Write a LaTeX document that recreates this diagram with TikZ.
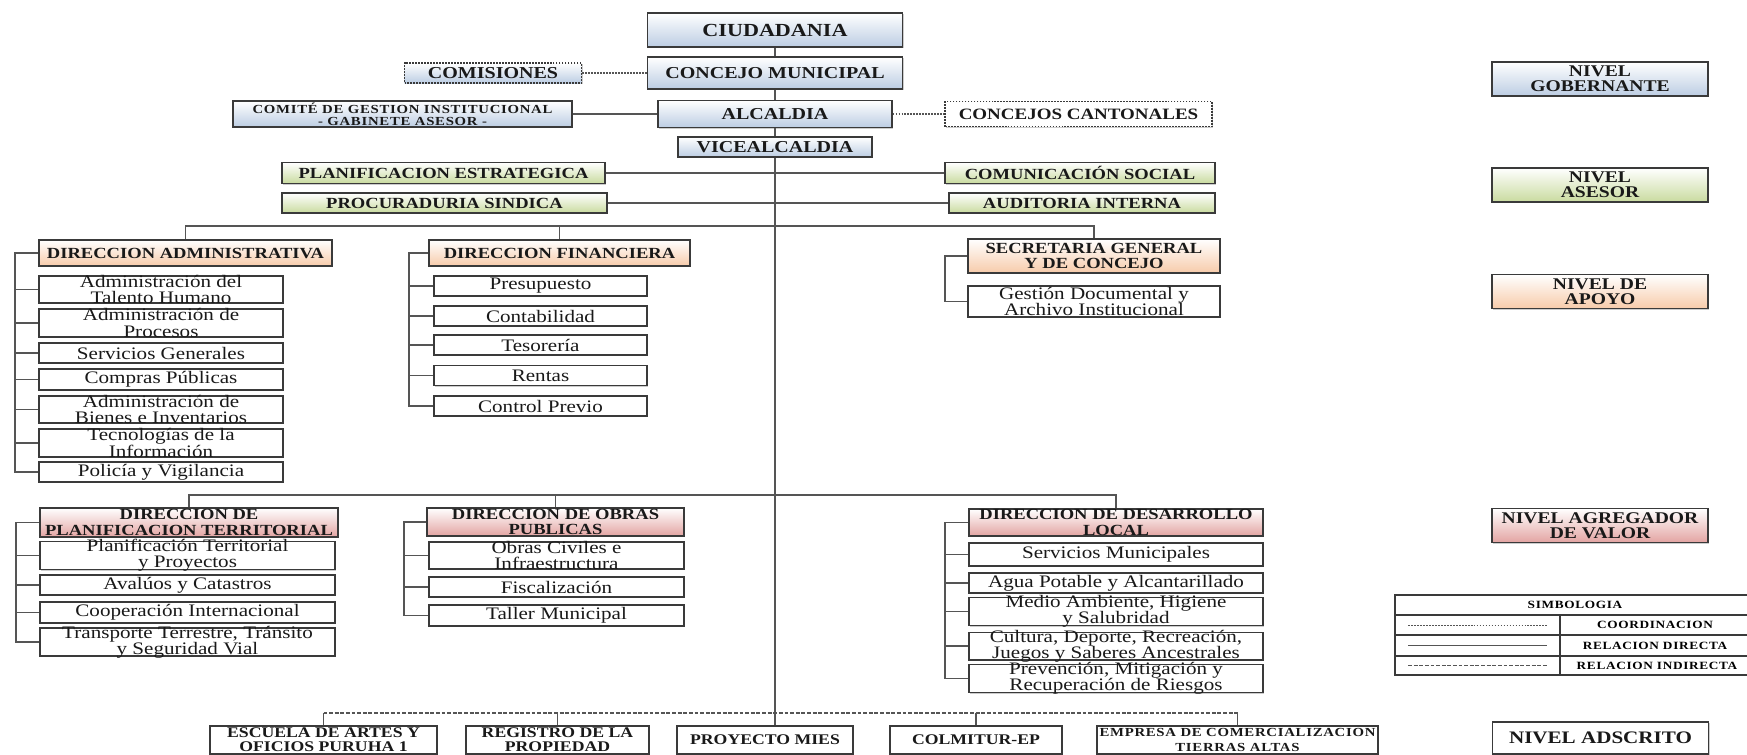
\documentclass[tikz,border=0pt]{standalone}
\usepackage{fontspec}
\setmainfont{Liberation Serif}[FakeStretch=1.2]
\newfontfamily\widefont{Liberation Serif}[FakeStretch=1.2, LetterSpace=6]
\usetikzlibrary{shadows}
\definecolor{gobcol}{HTML}{BCCDE3}
\definecolor{asecol}{HTML}{C9DB9F}
\definecolor{apocol}{HTML}{F7CBAA}
\definecolor{agrcol}{HTML}{E3A4A2}
\definecolor{edgecol}{HTML}{3A3A3A}
\definecolor{linkcol}{HTML}{555555}
\newcommand{\fsz}[2]{\fontsize{#1}{#2}\selectfont}
\begin{document}
\begin{tikzpicture}[x=0.02cm, y=-0.02cm,
  bw/.style={minimum width=#1*0.02cm},
  bh/.style={minimum height=#1*0.02cm},
  box/.style={draw=edgecol, line width=0.6pt, inner xsep=1pt, inner ysep=0pt, align=center, text=black!90,
    drop shadow={shadow xshift=0.7pt, shadow yshift=-0.7pt, fill=black!40}},
  gob/.style={box, top color=white, bottom color=gobcol, font=\bfseries\fsz{9.5}{9}},
  ase/.style={box, top color=white, bottom color=asecol, font=\bfseries\fsz{8.8}{8}},
  apo/.style={box, top color=white, bottom color=apocol, font=\bfseries\fsz{8.8}{8.8}},
  agr/.style={box, top color=white, bottom color=agrcol, inner ysep=-0.5pt, font=\bfseries\fsz{8.8}{8.6}},
  sub/.style={box, fill=white, inner ysep=-1.2pt, font=\fsz{10}{9.2}},
  adsc/.style={box, fill=white, bh=28, inner ysep=-0.5pt, font=\bfseries\fsz{8.4}{7.8}},
  lvl/.style={box, bw=216, bh=34, font=\bfseries\fsz{9.3}{8.5}},
  link/.style={draw=linkcol, line width=0.8pt},
  coord/.style={link, dash pattern=on 1pt off 0.7pt},
  indir/.style={link, dash pattern=on 2.2pt off 1pt}]
  \useasboundingbox (0,0) rectangle (1747,754);

  % nivel gobernante
  \node[gob, bw=255, bh=34, font=\bfseries\fsz{10.5}{10}] (ciud) at (775,30) {CIUDADANIA};
  \node[gob, bw=255, bh=32] (concejo) at (775,73) {CONCEJO MUNICIPAL};
  \node[gob, bw=177, bh=20, dash pattern=on 1pt off 0.7pt] (comis) at (493,73) {COMISIONES};
  \node[gob, bw=234, bh=27] (alcal) at (775,114) {ALCALDIA};
  \node[gob, bw=339, bh=26, font=\widefont\bfseries\fsz{7}{7}] (comite) at (402.5,114)
    {COMITÉ DE GESTION INSTITUCIONAL\\- GABINETE ASESOR -};
  \node[box, fill=white, bw=267, bh=25, dash pattern=on 1pt off 0.7pt, font=\bfseries\fsz{9}{9}] (canton)
    at (1078.5,114) {CONCEJOS CANTONALES};
  \node[gob, bw=194, bh=20] (vice) at (775,147) {VICEALCALDIA};

  % nivel asesor
  \node[ase, bw=323, bh=21] (planest) at (443.5,173) {PLANIFICACION ESTRATEGICA};
  \node[ase, bw=270, bh=21] (comsoc) at (1080,173) {COMUNICACIÓN SOCIAL};
  \node[ase, bw=325, bh=20] (procu) at (444.5,203) {PROCURADURIA SINDICA};
  \node[ase, bw=266, bh=20] (audit) at (1082,203) {AUDITORIA INTERNA};

  % nivel de apoyo
  \node[apo, bw=293, bh=26] (dadm) at (185.5,253) {DIRECCION ADMINISTRATIVA};
  \node[sub, bw=244, bh=27] (talento) at (161,289.5) {Administración del\\Talento Humano};
  \node[sub, bw=244, bh=28] (procesos) at (161,323) {Administración de\\Procesos};
  \node[sub, bw=244, bh=20] (servgen) at (161,353) {Servicios Generales};
  \node[sub, bw=244, bh=21] (compras) at (161,379.5) {Compras Públicas};
  \node[sub, bw=244, bh=27] (bienes) at (161,409.5) {Administración de\\Bienes e Inventarios};
  \node[sub, bw=244, bh=28] (tecno) at (161,443) {Tecnologías de la\\Información};
  \node[sub, bw=244, bh=20] (policia) at (161,472) {Policía y Vigilancia};

  \node[apo, bw=261, bh=26] (dfin) at (559.5,253) {DIRECCION FINANCIERA};
  \node[sub, bw=213, bh=20] (presup) at (540.5,286) {Presupuesto};
  \node[sub, bw=213, bh=20] (contab) at (540.5,316) {Contabilidad};
  \node[sub, bw=213, bh=20] (tesor) at (540.5,345) {Tesorería};
  \node[sub, bw=213, bh=20] (rentas) at (540.5,375.5) {Rentas};
  \node[sub, bw=213, bh=20] (ctrlprev) at (540.5,406) {Control Previo};

  \node[apo, bw=252, bh=34] (secre) at (1094,256) {SECRETARIA GENERAL\\Y DE CONCEJO};
  \node[sub, bw=252, bh=31] (gestdoc) at (1094,301.5) {Gestión Documental y\\Archivo Institucional};

  % nivel agregador de valor
  \node[agr, bw=298, bh=29] (dplan) at (189,522.5) {DIRECCION DE\\PLANIFICACION TERRITORIAL};
  \node[sub, bw=295, bh=25] (plantp) at (187.5,555.5) {Planificación Territorial\\y Proyectos};
  \node[sub, bw=295, bh=20] (avaluos) at (187.5,585) {Avalúos y Catastros};
  \node[sub, bw=295, bh=21] (cooper) at (187.5,612.5) {Cooperación Internacional};
  \node[sub, bw=295, bh=28] (transp) at (187.5,642) {Transporte Terrestre, Tránsito\\y Seguridad Vial};

  \node[agr, bw=257, bh=28] (dobras) at (555.5,522) {DIRECCION DE OBRAS\\PUBLICAS};
  \node[sub, bw=255, bh=27] (obrciv) at (556.5,555.5) {Obras Civiles e\\Infraestructura};
  \node[sub, bw=255, bh=20] (fiscal) at (556.5,587) {Fiscalización};
  \node[sub, bw=255, bh=21] (taller) at (556.5,615.5) {Taller Municipal};

  \node[agr, bw=294, bh=27] (ddl) at (1116,522.5) {DIRECCION DE DESARROLLO\\LOCAL};
  \node[sub, bw=294, bh=23] (servmun) at (1116,554.5) {Servicios Municipales};
  \node[sub, bw=294, bh=20] (agua) at (1116,583) {Agua Potable y Alcantarillado};
  \node[sub, bw=294, bh=27] (ambiente) at (1116,611.5) {Medio Ambiente, Higiene\\y Salubridad};
  \node[sub, bw=294, bh=26] (cultura) at (1116,646) {Cultura, Deporte, Recreación,\\Juegos y Saberes Ancestrales};
  \node[sub, bw=294, bh=27] (prevenc) at (1116,678.5) {Prevención, Mitigación y\\Recuperación de Riesgos};

  % nivel adscrito
  \node[adsc, bw=227] (escuela) at (323.5,740) {ESCUELA DE ARTES Y\\OFICIOS PURUHA 1};
  \node[adsc, bw=183] (registro) at (557.5,740) {REGISTRO DE LA\\PROPIEDAD};
  \node[adsc, bw=176] (proymies) at (765,740) {PROYECTO MIES};
  \node[adsc, bw=172] (colmitur) at (976,740) {COLMITUR-EP};
  \node[adsc, bw=281, font=\widefont\bfseries\fsz{7}{8}] (empresa) at (1237.5,740)
    {EMPRESA DE COMERCIALIZACION\\TIERRAS ALTAS};

  % eje central y relaciones de arriba
  \draw[link] (ciud) -- (concejo);
  \draw[link] (concejo) -- (alcal);
  \draw[link] (alcal) -- (vice);
  \draw[link] (vice.south) -- (vice.south |- proymies.north);
  \draw[coord] (comis) -- (concejo);
  \draw[link] (comite) -- (alcal);
  \draw[coord] (alcal) -- (canton);
  \draw[link] (planest) -- (comsoc);
  \draw[link] (procu) -- (audit);

  % barra de apoyo
  \coordinate (busapo) at (775,226);
  \draw[link] (dadm.north) |- (busapo) -| (secre.north);
  \draw[link] (dfin.north) -- (dfin.north |- busapo);
  \coordinate (brA) at (15,253);
  \draw[link] (dadm.west) -- (brA) |- (policia.west);
  \draw[link] (brA |- talento.west) -- (talento.west);
  \draw[link] (brA |- procesos.west) -- (procesos.west);
  \draw[link] (brA |- servgen.west) -- (servgen.west);
  \draw[link] (brA |- compras.west) -- (compras.west);
  \draw[link] (brA |- bienes.west) -- (bienes.west);
  \draw[link] (brA |- tecno.west) -- (tecno.west);
  \coordinate (brB) at (409,253);
  \draw[link] (dfin.west) -- (brB) |- (ctrlprev.west);
  \draw[link] (brB |- presup.west) -- (presup.west);
  \draw[link] (brB |- contab.west) -- (contab.west);
  \draw[link] (brB |- tesor.west) -- (tesor.west);
  \draw[link] (brB |- rentas.west) -- (rentas.west);
  \coordinate (brC) at (945,256);
  \draw[link] (secre.west) -- (brC) |- (gestdoc.west);

  % barra agregador de valor
  \coordinate (busagr) at (775,495);
  \draw[link] (dplan.north) |- (busagr) -| (ddl.north);
  \draw[link] (dobras.north) -- (dobras.north |- busagr);
  \coordinate (brD) at (16,522.5);
  \draw[link] (dplan.west) -- (brD) |- (transp.west);
  \draw[link] (brD |- plantp.west) -- (plantp.west);
  \draw[link] (brD |- avaluos.west) -- (avaluos.west);
  \draw[link] (brD |- cooper.west) -- (cooper.west);
  \coordinate (brE) at (404,522);
  \draw[link] (dobras.west) -- (brE) |- (taller.west);
  \draw[link] (brE |- obrciv.west) -- (obrciv.west);
  \draw[link] (brE |- fiscal.west) -- (fiscal.west);
  \coordinate (brF) at (945,522.5);
  \draw[link] (ddl.west) -- (brF) |- (prevenc.west);
  \draw[link] (brF |- servmun.west) -- (servmun.west);
  \draw[link] (brF |- agua.west) -- (agua.west);
  \draw[link] (brF |- ambiente.west) -- (ambiente.west);
  \draw[link] (brF |- cultura.west) -- (cultura.west);

  % barra adscrito
  \coordinate (busads) at (775,713);
  \draw[indir] (escuela.north |- busads) -- (empresa.north |- busads);
  \draw[link] (escuela.north) -- (escuela.north |- busads);
  \draw[link] (registro.north) -- (registro.north |- busads);
  \draw[link] (colmitur.north) -- (colmitur.north |- busads);
  \draw[link] (empresa.north) -- (empresa.north |- busads);

  % niveles
  \node[lvl, top color=white, bottom color=gobcol] (lvgob) at (1600,79) {NIVEL\\GOBERNANTE};
  \node[lvl, top color=white, bottom color=asecol] (lvase) at (1600,185) {NIVEL\\ASESOR};
  \node[lvl, top color=white, bottom color=apocol] (lvapo) at (1600,291.5) {NIVEL DE\\APOYO};
  \node[lvl, top color=white, bottom color=agrcol] (lvagr) at (1600,525.5) {NIVEL AGREGADOR\\DE VALOR};
  \node[lvl, fill=white, bh=32, font=\bfseries\fsz{10}{9}] (lvads) at (1600.5,738) {NIVEL ADSCRITO};

  % simbologia
  \draw[edgecol, line width=0.8pt] (1395,595) rectangle (1752,675);
  \draw[edgecol, line width=0.8pt] (1395,615) -- (1752,615);
  \draw[edgecol, line width=0.8pt] (1395,635) -- (1752,635);
  \draw[edgecol, line width=0.8pt] (1395,656) -- (1752,656);
  \draw[edgecol, line width=0.8pt] (1560,615) -- (1560,675);
  \node[font=\widefont\bfseries\fsz{6.3}{6}] (simb) at (1575,605) {SIMBOLOGIA};
  \node[font=\widefont\bfseries\fsz{6.3}{6}] (lgcoord) at (1655,625) {COORDINACION};
  \node[font=\widefont\bfseries\fsz{6.3}{6}] (lgdir) at (1655,645.5) {RELACION DIRECTA};
  \node[font=\widefont\bfseries\fsz{6.3}{6}] (lgind) at (1657,665.5) {RELACION INDIRECTA};
  \draw[coord, line width=0.5pt] (1408,625) -- (1547,625);
  \draw[link, line width=0.5pt] (1408,645.5) -- (1547,645.5);
  \draw[indir, line width=0.5pt] (1408,665.5) -- (1547,665.5);
\end{tikzpicture}
\end{document}
